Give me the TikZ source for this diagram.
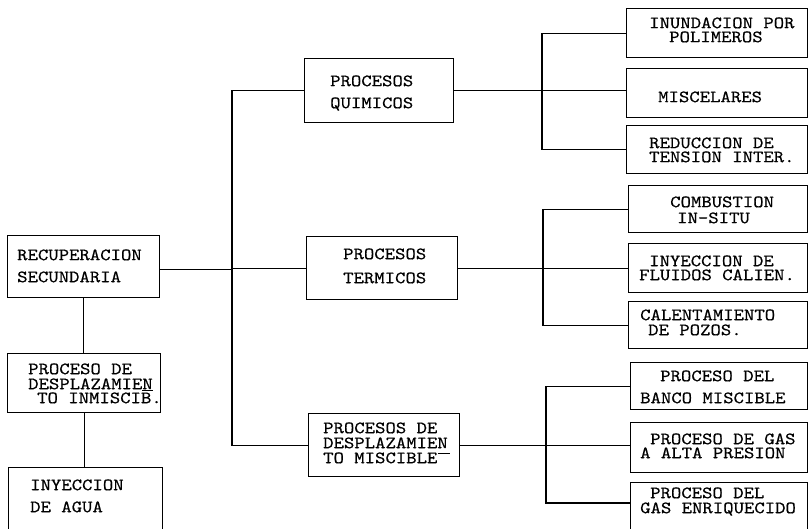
\documentclass[tikz,border=0pt]{standalone}
\usepackage{fontspec}
\newfontfamily\typew[FakeStretch=1.143,FakeBold=0.5]{lmmono10-regular.otf}
\begin{document}
\begin{tikzpicture}[x=1pt,y=-1pt,
  box/.style={draw, line width=1.3pt, rectangle, inner sep=0pt, anchor=north west},
  lbl/.style={anchor=base west, yshift=-5.2pt, inner sep=0pt, text height=10.5pt, text depth=0pt,
    font=\typew\fontsize{17.3}{17.3}\selectfont},
  conn/.style={line width=1.3pt},
  hy/.style={line width=0.9pt}]
\useasboundingbox (0,0) rectangle (808,528);
\clip (0,0) rectangle (808,528);
% boxes
\node[box, minimum width=152pt, minimum height=62pt] (RS) at (7,235) {};
\node[box, minimum width=153pt, minimum height=59pt] (PD) at (7,353) {};
\node[box, minimum width=154pt, minimum height=66pt] (IA) at (8,467) {};
\node[box, minimum width=149pt, minimum height=64pt] (PQ) at (304,58) {};
\node[box, minimum width=151pt, minimum height=63pt] (PT) at (306,236) {};
\node[box, minimum width=151pt, minimum height=63pt] (PM) at (308,413) {};
\node[box, minimum width=181pt, minimum height=49pt] (C1) at (626,8) {};
\node[box, minimum width=181pt, minimum height=49pt] (C2) at (626,68) {};
\node[box, minimum width=181pt, minimum height=48pt] (C3) at (626,125) {};
\node[box, minimum width=179pt, minimum height=47pt] (T1) at (628,185) {};
\node[box, minimum width=179pt, minimum height=49pt] (T2) at (628,243) {};
\node[box, minimum width=179pt, minimum height=47pt] (T3) at (628,301) {};
\node[box, minimum width=177pt, minimum height=47pt] (M1) at (630,362) {};
\node[box, minimum width=177pt, minimum height=50pt] (M2) at (630,422) {};
\node[box, minimum width=177pt, minimum height=52pt] (M3) at (630,482) {};
% trunks
\coordinate (L) at (232,0);
\coordinate (R1) at (542,0);
\coordinate (R2) at (543,0);
\coordinate (R3) at (546,0);
\coordinate (rsout) at ([yshift=-3pt]RS.east);
\coordinate (m3in) at ([yshift=-21pt]M3.north west);
% connectors
\draw[conn] (rsout) -- (rsout -| L);
\draw[conn] (PQ.west) -- (PQ.west -| L) -- (PM.west -| L) -- (PM.west);
\draw[conn] (PT.west -| L) -- (PT.west);
\draw[conn] (RS.south) -- (RS.south |- PD.north);
\draw[conn] (PD.south) -- (PD.south |- IA.north);
\draw[conn] (C1.west) -- (C1.west -| R1) -- (C3.west -| R1) -- (C3.west);
\draw[conn] (PQ.east) -- (PQ.east -| C2.west);
\draw[conn] (T1.west) -- (T1.west -| R2) -- (T3.west -| R2) -- (T3.west);
\draw[conn] (PT.east) -- (PT.east -| T2.west);
\draw[conn] (M1.west) -- (M1.west -| R3) -- (m3in -| R3) -- (m3in);
\draw[conn] (PM.east) -- (PM.east -| M2.west);
% texts
\node[lbl] (rs1) at (17,255) {RECUPERACION};
\node[lbl] (rs2) at (17,277) {SECUNDARIA};
\node[lbl] (pd1) at (28,369) {PROCESO DE};
\node[lbl] (pd2) at (28,384) {DESPLAZAMIEN};
\node[lbl] (pd3) at (37,398) {TO INMISCIB.};
\draw[hy] (142,390) -- (153,390);
\node[lbl] (ia1) at (30,485) {INYECCION};
\node[lbl] (ia2) at (30,507) {DE AGUA};
\node[lbl] (pq1) at (330,81) {PROCESOS};
\node[lbl] (pq2) at (330,103) {QUIMICOS};
\node[lbl] (pt1) at (343,254) {PROCESOS};
\node[lbl] (pt2) at (343,278) {TERMICOS};
\node[lbl] (pm1) at (323,428) {PROCESOS DE};
\node[lbl] (pm2) at (323,443) {DESPLAZAMIEN};
\node[lbl] (pm3) at (323,458) {TO MISCIBLE};
\draw[hy] (438,453) -- (450,453);
\node[lbl] (c11) at (649,23) {INUNDACION POR};
\node[lbl] (c12) at (669,37) {POLIMEROS};
\node[lbl] (c21) at (658,97) {MISCELARES};
\node[lbl] (c31) at (649,143) {REDUCCION DE};
\node[lbl] (c32) at (649,157) {TENSION INTER.};
\node[lbl] (t11) at (670,202) {COMBUSTION};
\node[lbl] (t12) at (677,218) {IN-SITU};
\node[lbl] (t21) at (649,261) {INYECCION DE};
\node[lbl] (t22) at (639,275) {FLUIDOS CALIEN.};
\node[lbl] (t31) at (640,315) {CALENTAMIENTO};
\node[lbl] (t32) at (648,330) {DE POZOS.};
\node[lbl] (m11) at (660,376) {PROCESO DEL};
\node[lbl] (m12) at (640,398) {BANCO MISCIBLE};
\node[lbl] (m21) at (650,439) {PROCESO DE GAS};
\node[lbl] (m22) at (640,453) {A ALTA PRESION};
\node[lbl] (m31) at (650,493) {PROCESO DEL};
\node[lbl] (m32) at (640,508) {GAS ENRIQUECIDO};
\end{tikzpicture}
\end{document}
